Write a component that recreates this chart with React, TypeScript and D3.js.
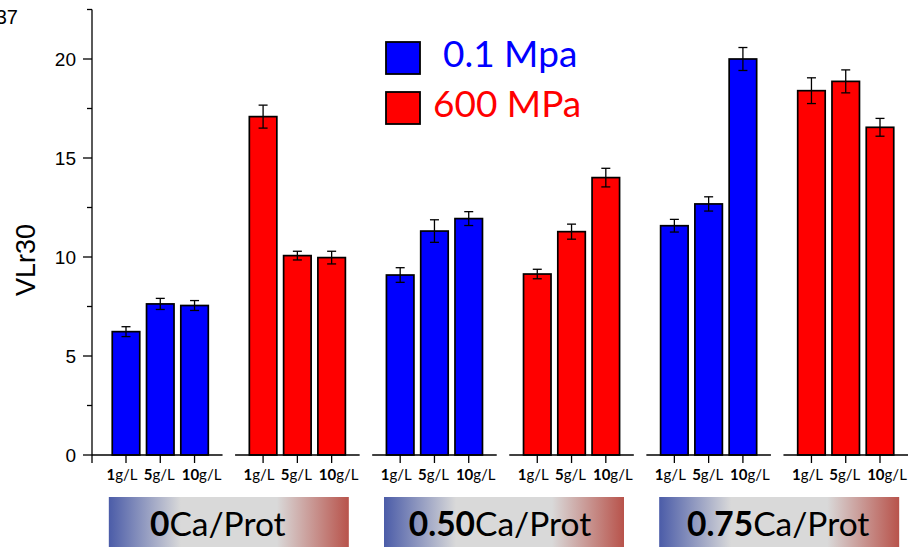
import React from "react";
import * as d3 from "d3";

const groupLabels = ["0", "0.50", "0.75"];
const concLabels = ["1", "5", "10"];
const seriesNames = ["0.1 Mpa", "600 MPa"];
const seriesColors = ["#0000ff", "#ff0000"];
// values per ratio group: [0.1 MPa x3, 600 MPa x3]
const blueValues = [
  [6.23, 7.63, 7.55],
  [9.09, 11.31, 11.94],
  [11.58, 12.68, 20.0],
];
const blueErrors = [
  [0.25, 0.28, 0.25],
  [0.37, 0.57, 0.35],
  [0.32, 0.36, 0.58],
];
const redValues = [
  [17.09, 10.07, 9.97],
  [9.14, 11.28, 14.01],
  [18.4, 18.87, 16.55],
];
const redErrors = [
  [0.58, 0.22, 0.32],
  [0.24, 0.38, 0.47],
  [0.65, 0.58, 0.45],
];
const yMajorTicks = [0, 5, 10, 15, 20];
const yMinorTicks = [2.5, 7.5, 12.5, 17.5, 22.5];
const yLabel = "VLr30";

export default function App() {
  const W = 916;
  const H = 551;
  const y = d3.scaleLinear().domain([0, 22.5]).range([455, 9.5]);
  const x = d3.scaleLinear().domain([0, 22]).range([126, 880]);
  const barW = 27.5;
  const axisX = 92;
  const labelShift = [-4, -1, 7];
  const boxTextShift = [-11, -3, 1];
  const boxShift = [0, 1, 2];

  type Bar = { slot: number; j: number; v: number; e: number; color: string; conc: string };
  const bars: Bar[] = [];
  groupLabels.forEach((_, p) => {
    [0, 1].forEach((s) => {
      const vals = s === 0 ? blueValues[p] : redValues[p];
      const errs = s === 0 ? blueErrors[p] : redErrors[p];
      vals.forEach((v, j) => {
        bars.push({ slot: p * 8 + s * 4 + j, j, v, e: errs[j], color: seriesColors[s], conc: concLabels[j] });
      });
    });
  });

  const segs = d3.range(6).map((g) => {
    const a = g === 0 ? axisX : x(g * 4) - 28;
    const b = x(g * 4 + 2) + 28;
    return [a, b];
  });

  const lato = "Lato, 'Open Sans', sans-serif";
  const arial = "Arial, 'Liberation Sans', sans-serif";

  return (
    <svg width={W} height={H} style={{ position: "absolute", left: 0, top: 0 }}>
      <defs>
        <linearGradient id="grad" x1="0" x2="1" y1="0" y2="0">
          <stop offset="0" stopColor="#4b5ca8" />
          <stop offset="0.3" stopColor="#d9d9d9" />
          <stop offset="0.7" stopColor="#d9d9d9" />
          <stop offset="1" stopColor="#b8534b" />
        </linearGradient>
      </defs>
      <rect x={0} y={0} width={W} height={H} fill="#fff" />
      <text x={18} y={24} textAnchor="end" fontFamily={arial} fontSize={20} fill="#000">37</text>

      {/* bars */}
      {bars.map((b, i) => (
        <g key={i}>
          <rect
            x={x(b.slot) - barW / 2}
            y={y(b.v)}
            width={barW}
            height={y(0) - y(b.v)}
            fill={b.color}
            stroke="#000"
            strokeWidth={1.7}
          />
          <line x1={x(b.slot)} x2={x(b.slot)} y1={y(b.v + b.e)} y2={y(b.v - b.e)} stroke="#000" strokeWidth={1.3} />
          <line x1={x(b.slot) - 4.5} x2={x(b.slot) + 4.5} y1={y(b.v + b.e)} y2={y(b.v + b.e)} stroke="#000" strokeWidth={1.3} />
          <line x1={x(b.slot) - 4.5} x2={x(b.slot) + 4.5} y1={y(b.v - b.e)} y2={y(b.v - b.e)} stroke="#000" strokeWidth={1.3} />
        </g>
      ))}

      {/* baseline segments */}
      {segs.map(([a, b], i) => (
        <line key={i} x1={a} x2={b} y1={y(0)} y2={y(0)} stroke="#000" strokeWidth={1.3} />
      ))}

      {/* x ticks and labels */}
      {bars.map((b, i) => (
        <g key={"t" + i}>
          <line x1={x(b.slot)} x2={x(b.slot)} y1={y(0)} y2={y(0) + 8} stroke="#000" strokeWidth={1.3} />
          <text x={x(b.slot) + labelShift[b.j]} y={480} textAnchor="middle" fontFamily={lato} fontSize={15} fill="#000">
            <tspan fontWeight="bold">{b.conc}</tspan>
            <tspan>g/L</tspan>
          </text>
        </g>
      ))}

      {/* y axis */}
      <line x1={axisX} x2={axisX} y1={y(22.5)} y2={y(0) + 8} stroke="#000" strokeWidth={1.3} />
      {yMajorTicks.map((t) => (
        <g key={"ym" + t}>
          <line x1={axisX - 9} x2={axisX} y1={y(t)} y2={y(t)} stroke="#000" strokeWidth={1.3} />
          <text x={76} y={y(t) + 7} textAnchor="end" fontFamily={arial} fontSize={19} fill="#000">{t}</text>
        </g>
      ))}
      {yMinorTicks.map((t) => (
        <line key={"yn" + t} x1={axisX - 5} x2={axisX} y1={y(t)} y2={y(t)} stroke="#000" strokeWidth={1.3} />
      ))}
      <text
        transform={`translate(35, 260) rotate(-90)`}
        textAnchor="middle"
        fontFamily={arial}
        fontSize={27}
        fill="#000"
      >
        {yLabel}
      </text>

      {/* legend */}
      {seriesNames.map((n, i) => (
        <g key={n}>
          <rect x={386} y={42 + i * 50} width={34} height={32} fill={seriesColors[i]} stroke="#000" strokeWidth={1.8} />
          <text x={i === 0 ? 443 : 433} y={67 + i * 50} fontFamily={lato} fontSize={37} fill={seriesColors[i]}>{n}</text>
        </g>
      ))}

      {/* group boxes */}
      {groupLabels.map((g, p) => {
        const cx = x(p * 8 + 3) + boxShift[p];
        return (
          <g key={g}>
            <rect x={cx - 120} y={497} width={240} height={50} fill="url(#grad)" />
            <text x={x(p * 8 + 3) + boxTextShift[p]} y={536} textAnchor="middle" fontFamily={lato} fontSize={33.5} fill="#000">
              <tspan fontWeight="bold">{g}</tspan>
              <tspan>Ca/Prot</tspan>
            </text>
          </g>
        );
      })}
    </svg>
  );
}
